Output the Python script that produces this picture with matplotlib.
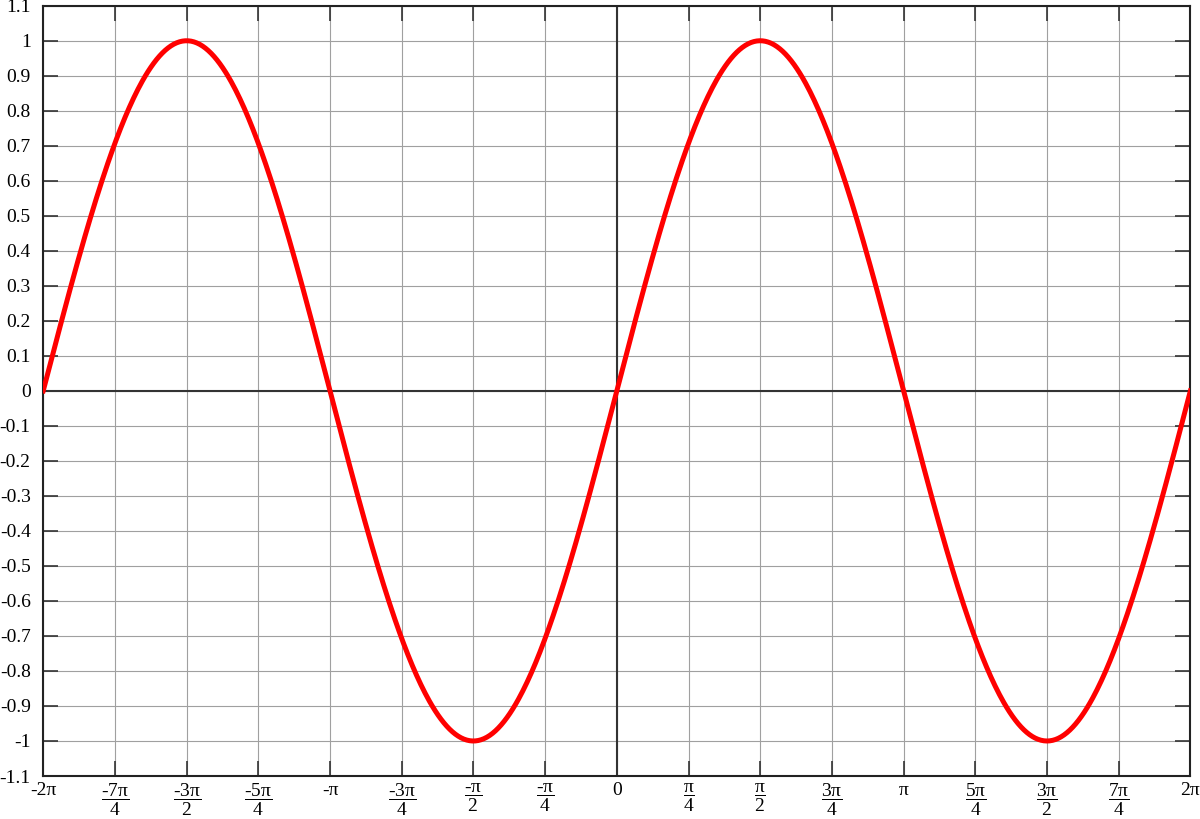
import numpy as np
import matplotlib.pyplot as plt

plt.rcParams['font.family'] = ['Liberation Serif', 'DejaVu Serif']
plt.rcParams['mathtext.fontset'] = 'custom'
plt.rcParams['mathtext.rm'] = 'Liberation Serif'
plt.rcParams['mathtext.it'] = 'Liberation Serif'

# x ticks in multiples of pi/4
x_tick_quarters = [-8, -7, -6, -5, -4, -3, -2, -1, 0, 1, 2, 3, 4, 5, 6, 7, 8]
x_tick_labels = ['-2π', r'$\dfrac{‐7π}{4}$', r'$\dfrac{‐3π}{2}$', r'$\dfrac{‐5π}{4}$', '-π',
                 r'$\dfrac{‐3π}{4}$', r'$\dfrac{‐π}{2}$', r'$\dfrac{‐π}{4}$', '0',
                 r'$\dfrac{π}{4}$', r'$\dfrac{π}{2}$', r'$\dfrac{3π}{4}$', 'π',
                 r'$\dfrac{5π}{4}$', r'$\dfrac{3π}{2}$', r'$\dfrac{7π}{4}$', '2π']
y_ticks = [-1.1, -1.0, -0.9, -0.8, -0.7, -0.6, -0.5, -0.4, -0.3, -0.2, -0.1, 0,
           0.1, 0.2, 0.3, 0.4, 0.5, 0.6, 0.7, 0.8, 0.9, 1.0, 1.1]
y_tick_labels = ['-1.1', '-1', '-0.9', '-0.8', '-0.7', '-0.6', '-0.5', '-0.4', '-0.3',
                 '-0.2', '-0.1', '0', '0.1', '0.2', '0.3', '0.4', '0.5', '0.6', '0.7',
                 '0.8', '0.9', '1', '1.1']

# the plotted function: y = sin(x) on [-2pi, 2pi]
x = np.linspace(-2 * np.pi, 2 * np.pi, 800)
y = np.sin(x)

fig = plt.figure(figsize=(12, 8.19), dpi=100)
ax = fig.add_axes([0.036, 0.0525, 0.956, 0.9405])

xt = [q * np.pi / 4 for q in x_tick_quarters]
ax.set_xticks(xt)
ax.set_xticklabels(x_tick_labels, fontsize=14, va='top')
ax.set_yticks(y_ticks)
ax.set_yticklabels(y_tick_labels, fontsize=14)
ax.set_xlim(-2 * np.pi, 2 * np.pi)
ax.set_ylim(-1.1, 1.1)

ax.grid(True, color='#a0a0a0', linewidth=0.8)
ax.axhline(0, color='#333333', linewidth=1.5, zorder=2)
ax.axvline(0, color='#333333', linewidth=1.5, zorder=2)

ax.plot(x, y, color='red', linewidth=3.6, zorder=3)

ax.tick_params(direction='in', length=11, width=1.2, color='#333333',
               top=True, right=True)
ax.tick_params(axis='y', pad=9)
ax.tick_params(axis='x', pad=4)
for s in ax.spines.values():
    s.set_color('#222222')
    s.set_linewidth(1.5)

plt.savefig('out.png', dpi=100)
